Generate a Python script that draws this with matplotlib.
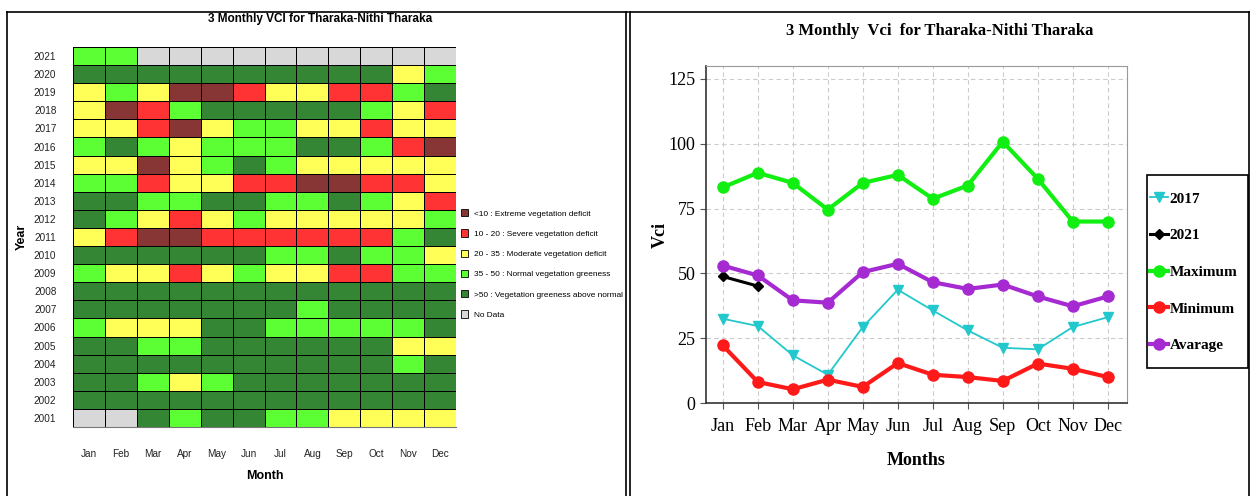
import matplotlib.pyplot as plt
from matplotlib.colors import ListedColormap, BoundaryNorm
from matplotlib.patches import Patch, Rectangle
from matplotlib.lines import Line2D
import numpy as np

months = ["Jan", "Feb", "Mar", "Apr", "May", "Jun", "Jul", "Aug", "Sep", "Oct", "Nov", "Dec"]
years = list(range(2001, 2022))

# VCI class per month: 0 <10, 1 10-20, 2 20-35, 3 35-50, 4 >50, 5 no data
vci_class = {
    2021: [3, 3, 5, 5, 5, 5, 5, 5, 5, 5, 5, 5],
    2020: [4, 4, 4, 4, 4, 4, 4, 4, 4, 4, 2, 3],
    2019: [2, 3, 2, 0, 0, 1, 2, 2, 1, 1, 3, 4],
    2018: [2, 0, 1, 3, 4, 4, 4, 4, 4, 3, 2, 1],
    2017: [2, 2, 1, 0, 2, 3, 3, 2, 2, 1, 2, 2],
    2016: [3, 4, 3, 2, 3, 3, 3, 4, 4, 3, 1, 0],
    2015: [2, 2, 0, 2, 3, 4, 3, 2, 2, 2, 2, 2],
    2014: [3, 3, 1, 2, 2, 1, 1, 0, 0, 1, 1, 2],
    2013: [4, 4, 3, 3, 4, 4, 3, 3, 4, 3, 2, 1],
    2012: [4, 3, 2, 1, 2, 3, 2, 2, 2, 2, 2, 3],
    2011: [2, 1, 0, 0, 1, 1, 1, 1, 1, 1, 3, 4],
    2010: [4, 4, 4, 4, 4, 4, 3, 3, 4, 3, 3, 2],
    2009: [3, 2, 2, 1, 2, 3, 2, 2, 1, 1, 3, 3],
    2008: [4, 4, 4, 4, 4, 4, 4, 4, 4, 4, 4, 4],
    2007: [4, 4, 4, 4, 4, 4, 4, 3, 4, 4, 4, 4],
    2006: [3, 2, 2, 2, 4, 4, 3, 3, 3, 3, 3, 4],
    2005: [4, 4, 3, 3, 4, 4, 4, 4, 4, 4, 2, 2],
    2004: [4, 4, 4, 4, 4, 4, 4, 4, 4, 4, 3, 4],
    2003: [4, 4, 3, 2, 3, 4, 4, 4, 4, 4, 4, 4],
    2002: [4, 4, 4, 4, 4, 4, 4, 4, 4, 4, 4, 4],
    2001: [5, 5, 4, 3, 4, 4, 3, 3, 2, 2, 2, 2],
}
class_labels = ["<10 : Extreme vegetation deficit", "10 - 20 : Severe vegetation deficit",
                "20 - 35 : Moderate vegetation deficit", "35 - 50 : Normal vegetation greeness",
                ">50 : Vegetation greeness above normal", "No Data"]
class_colors = ["#883535", "#ff3333", "#ffff58", "#5cff33", "#348534", "#d8d8d8"]

# line chart values
vci_2017 = [32.5, 29.7, 18.4, 10.9, 29.3, 43.7, 35.7, 28.0, 21.3, 20.7, 29.3, 33.1]
vci_2021 = [48.8, 45.1]
vci_max = [83.2, 88.8, 84.9, 74.6, 84.9, 88.0, 78.8, 83.9, 100.8, 86.5, 70.0, 70.0]
vci_min = [22.2, 8.1, 5.3, 9.0, 6.2, 15.4, 10.9, 10.0, 8.5, 15.2, 13.2, 10.0]
vci_avg = [53.0, 49.2, 39.6, 38.7, 50.5, 53.7, 46.6, 44.0, 45.7, 41.1, 37.3, 41.1]

W, H = 1256, 496
fig = plt.figure(figsize=(W / 100, H / 100), dpi=100)
sans = ["Liberation Sans Narrow", "Liberation Sans", "DejaVu Sans"]
serif = ["Liberation Serif", "DejaVu Serif"]

def fx(px):
    return px / W

def fy(py):
    return 1 - py / H

# panel borders
for seg in [((7, 628), (12, 12)), ((7, 7), (12, 496)), ((626, 626), (12, 496)),
            ((630, 1249), (12, 12)), ((630, 630), (12, 496)), ((1249, 1249), (12, 496))]:
    fig.add_artist(Line2D([fx(seg[0][0]), fx(seg[0][1])], [fy(seg[1][0]), fy(seg[1][1])],
                          color="black", lw=1.2))

# ---- heatmap ----
ax1 = fig.add_axes([fx(73), fy(427), fx(456 - 73), (427 - 47) / H])
grid = np.array([vci_class[y] for y in years])
cmap = ListedColormap(class_colors)
norm = BoundaryNorm(np.arange(-0.5, 6.5, 1), cmap.N)
ax1.pcolormesh(np.arange(13), np.arange(len(years) + 1), grid, cmap=cmap, norm=norm,
               edgecolors="black", linewidth=0.7)
ax1.set_xlim(0, 12)
ax1.set_ylim(0, len(years))
ax1.set_xticks(np.arange(12) + 0.5)
ax1.set_xticklabels(months, family=sans, fontsize=7.2, color="#222222")
ax1.set_yticks(np.arange(len(years)) + 0.5)
ax1.set_yticklabels([str(y) for y in years], family=sans, fontsize=7.2, color="#222222")
ax1.tick_params(axis="y", length=0, pad=12)
ax1.tick_params(axis="x", length=0, pad=16)
for s in ax1.spines.values():
    s.set_visible(False)
ax1.spines["bottom"].set_visible(True)
ax1.spines["bottom"].set_color("#777777")
ax1.set_xlabel("Month", family=sans, fontsize=9, fontweight="bold", labelpad=8)
ax1.set_ylabel("Year", family=sans, fontsize=9, fontweight="bold", labelpad=4)
fig.text(fx(320), fy(19), "3 Monthly VCI for Tharaka-Nithi Tharaka", family=sans,
         fontsize=8.5, fontweight="bold", ha="center", va="center")

handles = [Patch(facecolor=c, edgecolor="black", lw=0.6) for c in class_colors]
fig.legend(handles, class_labels, loc="upper left", bbox_to_anchor=(fx(461), fy(209)),
           frameon=False, prop={"family": sans, "size": 5.95}, handlelength=0.9,
           handleheight=1.0, handletextpad=0.7, labelspacing=1.42, borderaxespad=0,
           borderpad=0)

# ---- line chart ----
ax2 = fig.add_axes([fx(706), fy(403), fx(1127 - 706), (403 - 66) / H])
x = np.arange(12)
ax2.plot(x, vci_2017, color="#22c8cc", lw=1.3, marker="v", ms=7, label="2017")
ax2.plot(x[:len(vci_2021)], vci_2021, color="black", lw=2.2, marker="D", ms=5, label="2021")
ax2.plot(x, vci_max, color="#11ee11", lw=3, marker="o", ms=8, label="Maximum")
ax2.plot(x, vci_min, color="#ff1a1a", lw=3, marker="o", ms=8, label="Minimum")
ax2.plot(x, vci_avg, color="#a52ad2", lw=3, marker="o", ms=8, label="Avarage")
ax2.set_xlim(-0.48, 11.55)
ax2.set_ylim(0, 130)
ax2.set_yticks([0, 25, 50, 75, 100, 125])
ax2.set_xticks(x)
ax2.set_xticklabels(months)
for lab in ax2.get_xticklabels() + ax2.get_yticklabels():
    lab.set_family(serif)
    lab.set_fontsize(13)
ax2.grid(True, color="#cccccc", ls=(0, (4, 3)), lw=0.8)
ax2.tick_params(length=4, color="#555555")
ax2.tick_params(axis="x", pad=7)
for side in ["top", "right"]:
    ax2.spines[side].set_color("#999999")
for side in ["left", "bottom"]:
    ax2.spines[side].set_color("#333333")
    ax2.spines[side].set_linewidth(1.2)
ax2.set_xlabel("Months", family=serif, fontsize=13, fontweight="bold", labelpad=12)
ax2.set_ylabel("Vci", family=serif, fontsize=13, fontweight="bold", labelpad=0)
fig.text(fx(940), fy(31), "3 Monthly  Vci  for Tharaka-Nithi Tharaka", family=serif,
         fontsize=12, fontweight="bold", ha="center", va="center")

# legend box drawn separately so padding matches
fig.add_artist(Rectangle((fx(1147), fy(368)), fx(1248 - 1147), (368 - 175) / H,
                         transform=fig.transFigure, facecolor="white", edgecolor="black",
                         lw=1.2, zorder=2))
fig.legend(*ax2.get_legend_handles_labels(), loc="upper left",
           bbox_to_anchor=(fx(1150), fy(192)), prop={"family": serif, "size": 11, "weight": "bold"},
           handlelength=1.15, handletextpad=0.15, labelspacing=1.5, borderpad=0,
           frameon=False, borderaxespad=0).set_zorder(3)

fig.savefig("out.png", dpi=100)
